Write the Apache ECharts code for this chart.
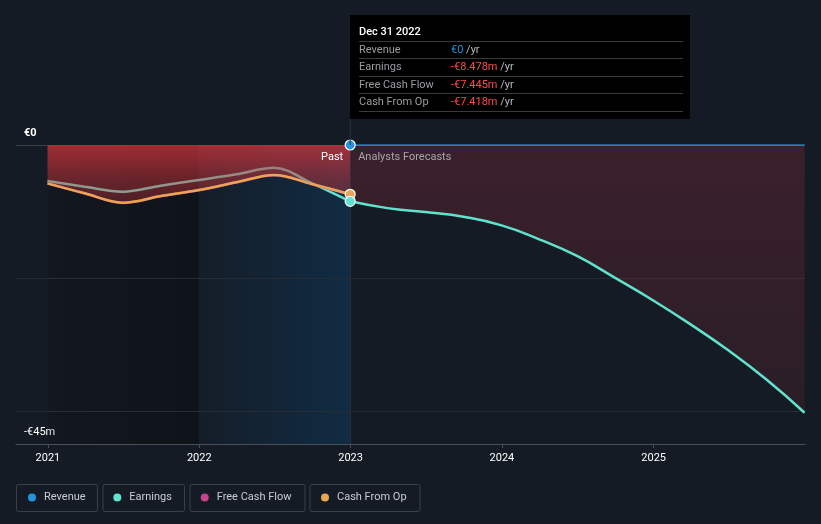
<!DOCTYPE html>
<html><head><meta charset="utf-8">
<script src="https://cdn.jsdelivr.net/npm/echarts@6/dist/echarts.min.js"></script>
<style>html,body{margin:0;padding:0;background:#151b24}#c{width:821px;height:524px}</style>
</head><body><div id="c"></div>
<script>
// ---- data ----
const pastDates = ['2020-12-31','2021-03-31','2021-06-30','2021-09-30','2021-12-31','2022-03-31','2022-06-30','2022-09-30','2022-12-31'];
const earningsPast = [-5.42,-6.27,-7.03,-6.12,-5.27,-4.41,-3.42,-5.76,-8.478];
const cashFromOpPast = [-5.77,-7.27,-8.68,-7.68,-6.77,-5.62,-4.52,-5.87,-7.418];
const freeCashFlowPast = [-5.80,-7.30,-8.72,-7.72,-6.80,-5.65,-4.55,-5.90,-7.445];
const forecastDates = ['2022-12-31','2023-03-31','2023-06-30','2023-09-30','2023-12-31','2024-03-31','2024-06-30','2024-09-30','2024-12-31','2025-03-31','2025-06-30','2025-09-30','2025-12-31'];
const earningsForecast = [-8.478,-9.5,-10.1,-10.8,-12.1,-14.2,-16.7,-20.0,-23.4,-27.0,-30.9,-35.3,-40.3];
const revenueDates = ['2022-12-31','2025-12-31'];
const revenueForecast = [0,0];
const yearTicks = ['2021','2022','2023','2024','2025'];
const yTickLabels = {'0':'€0','-45':'-€45m'};
const gridValues = [-20,-40];
const tooltipTitle = 'Dec 31 2022';
const tooltipLabels = ['Revenue','Earnings','Free Cash Flow','Cash From Op'];
const tooltipValues = ['€0','-€8.478m','-€7.445m','-€7.418m'];
const legendNames = ['Revenue','Earnings','Free Cash Flow','Cash From Op'];
const pastEnd = '2022-12-31';

const C = {rev:'#2394df', earn:'#5fe3cf', fcf:'#c6438a', cfo:'#e9a553'};
const F = 'Roboto, "Open Sans", sans-serif';
const T = (d) => Date.parse(d + 'T00:00:00Z');
const pair = (ds, vs) => ds.map((d,i)=>[T(d), vs[i]]);
const lastDot = (arr, color) => arr.map((p)=> p[0]===T(pastEnd) ? {value:p, symbol:'circle', symbolSize:10, itemStyle:{color, borderColor:'#fff', borderWidth:1.2}} : p);
const yearTs = yearTicks.map(y=>T(y+'-01-01'));

const chart = echarts.init(document.getElementById('c'), null, {renderer:'canvas'});
const lg = (name, left) => ({data:[name], left, top:492, padding:0, icon:'circle', itemWidth:8, itemHeight:8,
  textStyle:{color:'#c9ccd1', fontSize:11, fontFamily:F, padding:[0,0,0,3]}, selectedMode:false});

const option = {
  backgroundColor:'#151b24',
  animation:false,
  grid:{left:16, right:16, top:145, bottom:80},
  xAxis:{type:'value', min:T('2020-10-16'), max:T('2026-01-01'),
    axisLine:{onZero:false, lineStyle:{color:'#4a4e57'}},
    axisTick:{show:true, length:4, lineStyle:{color:'#4a4e57'}, customValues: yearTs},
    axisLabel:{color:'#ffffff', fontSize:11, fontFamily:F, margin:9, customValues: yearTs,
      formatter:(v)=> String(new Date(v).getUTCFullYear())},
    splitLine:{show:false}},
  yAxis:{type:'value', min:-45, max:0, interval:45,
    axisLine:{show:false}, axisTick:{show:false},
    splitLine:{show:true, lineStyle:{color:'#3a3f48'}},
    axisLabel:{inside:true, margin:8, verticalAlign:'bottom', padding:[0,0,6,0], color:'#ffffff', fontSize:11, fontFamily:F,
      formatter:(v)=> v===0 ? '{b|'+yTickLabels['0']+'}' : (yTickLabels[String(v)]||''),
      rich:{b:{fontWeight:'bold', color:'#fff', fontSize:11, fontFamily:F}}}},
  legend:[lg(legendNames[0],28), lg(legendNames[1],113.3), lg(legendNames[2],200.7), lg(legendNames[3],321)],
  series:[
    {type:'line', name:'band1', data:[], z:1, silent:true,
      markArea:{silent:true, itemStyle:{color:new echarts.graphic.LinearGradient(0,0,1,0,[{offset:0,color:'rgba(0,0,0,0.12)'},{offset:1,color:'rgba(0,0,0,0.3)'}])},
        data:[[{xAxis:T('2020-12-31')},{xAxis:T('2021-12-31')}]]},
      markLine:{silent:true, symbol:'none', label:{show:false}, lineStyle:{color:'#262c35', width:1, type:'solid'},
        data: gridValues.map(v=>({yAxis:v}))}},
    {type:'line', name:'Earnings', data:pair(pastDates, earningsPast), z:2, smooth:0.35, symbol:'none',
      color:C.earn, lineStyle:{width:2.5, color:C.earn}},
    {type:'line', name:'Free Cash Flow', data:pair(pastDates, freeCashFlowPast), z:3, smooth:0.35, symbol:'none',
      color:C.fcf, lineStyle:{width:2.5, color:C.fcf},
      areaStyle:{origin:'auto', opacity:1, color:new echarts.graphic.LinearGradient(0,0,0,1,[{offset:0,color:'rgba(205,52,58,0.76)'},{offset:0.5,color:'rgba(205,52,58,0.5)'},{offset:1,color:'rgba(205,52,58,0.32)'}])}},
    {type:'line', name:'band2', data:[], z:4, silent:true,
      markArea:{silent:true, itemStyle:{color:new echarts.graphic.LinearGradient(0,0,1,0,[{offset:0,color:'rgba(6,83,140,0.03)'},{offset:1,color:'rgba(6,83,140,0.3)'}])},
        data:[[{xAxis:T('2021-12-31')},{xAxis:T(pastEnd)}]]},
      markLine:{silent:true, symbol:'none', label:{show:false}, lineStyle:{color:'#243040', width:1, type:'solid'},
        data:[{xAxis:T(pastEnd)}]}},
    {type:'line', name:'Cash From Op', data:lastDot(pair(pastDates, cashFromOpPast), C.cfo), z:5, smooth:0.35, symbol:'none',
      color:C.cfo, lineStyle:{width:2.5, color:C.cfo}},
    {type:'line', name:'Earnings', data:lastDot(pair(forecastDates, earningsForecast), C.earn), z:5, smooth:0.5, symbol:'none',
      color:C.earn, lineStyle:{width:2.5, color:C.earn},
      areaStyle:{origin:'auto', opacity:1, color:new echarts.graphic.LinearGradient(0,0,0,1,[{offset:0,color:'rgba(125,40,52,0.36)'},{offset:1,color:'rgba(125,40,52,0.2)'}])}},
    {type:'line', name:'Revenue', data:lastDot(pair(revenueDates, revenueForecast), C.rev), z:6, symbol:'none',
      color:C.rev, lineStyle:{width:1.5, color:C.rev}}
  ]
};
chart.setOption(option);

// decorations positioned from the axes
const xPast = chart.convertToPixel({xAxisIndex:0}, T(pastEnd));
const yZero = chart.convertToPixel({yAxisIndex:0}, 0);
const boxes = [[16,81],[102.5,81.5],[189.5,115],[309.5,110]];
const graphic = [];
boxes.forEach(b=>graphic.push({type:'rect', z:-1, shape:{x:b[0]+0.5, y:484.5, width:b[1], height:27, r:2}, style:{fill:'none', stroke:'#3a3f48', lineWidth:1}}));
graphic.push({type:'line', z:10, shape:{x1:xPast, y1:119, x2:xPast, y2:yZero}, style:{stroke:'#243040', lineWidth:1}});
graphic.push({type:'text', z:10, x:xPast-7, y:yZero+12, style:{text:'Past', fill:'#ffffff', font:'11px '+F, align:'right', verticalAlign:'middle'}});
graphic.push({type:'text', z:10, x:xPast+8, y:yZero+12, style:{text:'Analysts Forecasts', fill:'#a3a6ad', font:'11px '+F, align:'left', verticalAlign:'middle'}});
// tooltip panel
const tx = 350, ty = 15;
const tip = [{type:'rect', shape:{x:tx, y:ty, width:340, height:104}, style:{fill:'#000000'}},
  {type:'text', x:tx+9, y:ty+17, style:{text:tooltipTitle, fill:'#ffffff', font:'500 11px '+F, verticalAlign:'middle'}}];
[26.5,43.5,61.5,78.5,96.5].forEach(d=>tip.push({type:'line', shape:{x1:tx+9, y1:ty+d, x2:tx+333, y2:ty+d}, style:{stroke:'#3a3a3a', lineWidth:1}}));
tooltipLabels.forEach((l,i)=>{
  const yy = ty+35+i*17.5;
  tip.push({type:'text', x:tx+9, y:yy, style:{text:l, fill:'#9a9ca1', font:'11px '+F, verticalAlign:'middle'}});
  tip.push({type:'text', x:tx+101, y:yy, style:{text:'{v|'+tooltipValues[i]+'}{u| /yr}', verticalAlign:'middle', font:'11px '+F,
    rich:{v:{fill: i===0 ? '#2394df' : '#ff4b4b', font:'11px '+F}, u:{fill:'#b8babe', font:'11px '+F}}}});
});
graphic.push({type:'group', z:20, children:tip});
chart.setOption({graphic});
</script></body></html>
